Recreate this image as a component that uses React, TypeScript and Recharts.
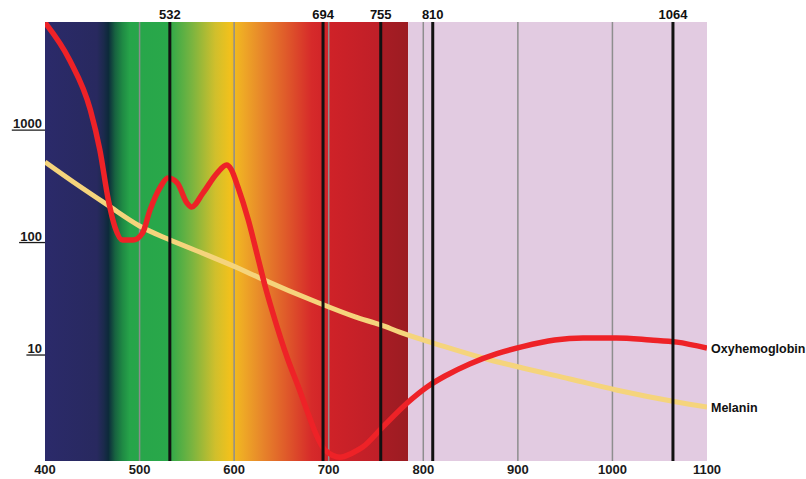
import React from "react";
import { LineChart, Line, XAxis, YAxis, ReferenceArea, ReferenceLine } from "recharts";

// wavelength axis (nm) and absorption axis (log)
const xTicks = [400, 500, 600, 700, 800, 900, 1000, 1100];
const yTicks = [10, 100, 1000];
const gridLines = [500, 600, 700, 800, 900, 1000];
const laserLines = [532, 694, 755, 810, 1064];
const visibleEnd = 784;

const oxyWavelength = [
  400, 426, 448, 458, 467, 474, 482, 493, 503, 511, 522, 530, 540, 550, 555, 567, 582, 592, 597,
  604, 615, 625, 633, 640, 657, 668, 678, 688, 696, 712, 725, 736, 756, 783, 807, 823, 849,
  878, 905, 939, 969, 1004, 1040, 1068, 1100,
];
const oxyValue = [
  7900, 3670, 1320, 582, 209, 120, 92, 92, 106, 170, 273, 328, 296, 197, 181, 241, 363, 428, 390,
  273, 139, 65, 35.3, 22, 7.9, 4.55, 2.67, 1.63, 1.25, 1.08, 1.18, 1.33, 1.96, 3.28, 4.74,
  5.7, 7.3, 9.0, 10.4, 11.9, 12.4, 12.4, 11.9, 11.4, 10.1,
];

const melWavelength = [400, 430, 466, 500, 530, 571, 604, 627, 687, 728, 755, 775, 821, 863, 905, 955, 1004, 1068, 1100];
const melValue = [455, 302, 189, 123, 94, 68, 52, 42.4, 25.9, 19.1, 16.2, 14.0, 10.5, 8.24, 6.71, 5.36, 4.28, 3.35, 3.02];

const oxyData = oxyWavelength.map((w, i) => ({ w, v: oxyValue[i] }));
const melData = melWavelength.map((w, i) => ({ w, v: melValue[i] }));

// colour of the visible band, by wavelength
const spectrumStops: [number, string][] = [
  [400, "#2b2a6a"],
  [455, "#28295f"],
  [462, "#1b2a4c"],
  [467, "#0c2a3a"],
  [474, "#176240"],
  [482, "#1f8a44"],
  [490, "#27a54a"],
  [530, "#29a84a"],
  [555, "#78b440"],
  [580, "#d0bf2c"],
  [596, "#f2c11c"],
  [610, "#eea826"],
  [627, "#e88a2a"],
  [655, "#df5a2a"],
  [682, "#d62a2a"],
  [700, "#cf2228"],
  [754, "#bf1f28"],
  [755, "#a81c24"],
  [784, "#9c1c22"],
];

const XTick = (props: any) => {
  const { x, y, payload } = props;
  return (
    <text x={x} y={y + 13} textAnchor="middle" fontSize={13} fontWeight="bold" fill="#1a1a1a">
      {payload.value}
    </text>
  );
};

const YTick = (props: any) => {
  const { x, y, payload } = props;
  const label = String(payload.value);
  const w = label.length * 7.3;
  return (
    <g>
      <text x={x - 3} y={y + 4.5} textAnchor="end" fontSize={13} fontWeight="bold" fill="#1a1a1a">
        {label}
      </text>
      <line x1={x - 4 - w} x2={x} y1={y + 6.5} y2={y + 6.5} stroke="#1a1a1a" strokeWidth={1.3} />
    </g>
  );
};

const endLabel = (name: string, last: number) => (props: any) => {
  if (props.index !== last) return null;
  return (
    <text x={props.x + 4} y={props.y + 5} fontSize={12.5} fontWeight="bold" fill="#111">
      {name}
    </text>
  );
};

export default function App() {
  return (
    <div style={{ position: "absolute", left: 0, top: 0, width: 806, height: 479, background: "#fff" }}>
      <LineChart
        width={806}
        height={479}
        margin={{ top: 22, right: 99, bottom: 0, left: 0 }}
        style={{ fontFamily: "'Liberation Sans', Arial, sans-serif" }}
      >
        <defs>
          <linearGradient id="spectrum" x1="0" y1="0" x2="1" y2="0">
            {spectrumStops.map(([w, c], i) => (
              <stop key={i} offset={(w - 400) / (visibleEnd - 400)} stopColor={c} />
            ))}
          </linearGradient>
        </defs>
        <XAxis
          type="number"
          dataKey="w"
          domain={[400, 1100]}
          ticks={xTicks}
          interval={0}
          allowDataOverflow
          axisLine={false}
          tickLine={false}
          tickSize={0}
          tickMargin={0}
          height={18}
          tick={<XTick />}
        />
        <YAxis
          type="number"
          scale="log"
          domain={[1, 8000]}
          ticks={yTicks}
          interval={0}
          allowDataOverflow
          axisLine={false}
          tickLine={false}
          tickSize={0}
          tickMargin={0}
          width={45}
          tick={<YTick />}
        />
        <ReferenceArea x1={400} x2={visibleEnd} fill="url(#spectrum)" fillOpacity={1} stroke="none" />
        <ReferenceArea x1={visibleEnd} x2={1100} fill="#e2cbe1" fillOpacity={1} stroke="none" />
        {gridLines.map((g) => (
          <ReferenceLine key={g} x={g} stroke="#8e8e8e" strokeWidth={1.5} />
        ))}
        <Line
          data={melData}
          dataKey="v"
          type="monotone"
          stroke="#f5d47c"
          strokeWidth={5}
          dot={false}
          isAnimationActive={false}
          label={endLabel("Melanin", melData.length - 1)}
        />
        <Line
          data={oxyData}
          dataKey="v"
          type="monotone"
          stroke="#ee2227"
          strokeWidth={5.5}
          dot={false}
          isAnimationActive={false}
          label={endLabel("Oxyhemoglobin", oxyData.length - 1)}
        />
        {laserLines.map((l) => (
          <ReferenceLine
            key={l}
            x={l}
            stroke="#111"
            strokeWidth={3}
            label={{ value: String(l), position: "top", offset: 3, fill: "#111", fontSize: 13, fontWeight: "bold" }}
          />
        ))}
      </LineChart>
    </div>
  );
}
